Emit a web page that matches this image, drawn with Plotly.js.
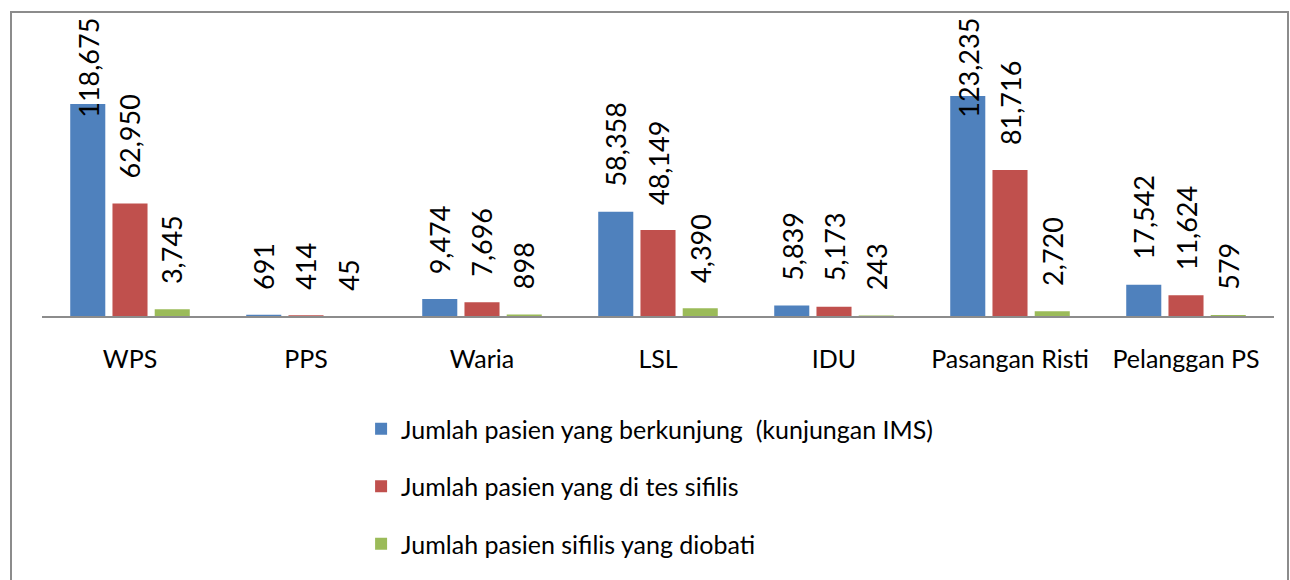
<!DOCTYPE html>
<html><head><meta charset="utf-8">
<script src="https://cdn.plot.ly/plotly-3.0.1.min.js"></script>
<style>
html,body{margin:0;padding:0;background:#fff;}
#chart{width:1290px;height:580px;}
#frame{position:absolute;left:10px;top:11px;width:1275px;height:620px;border:2px solid #8c8c8c;pointer-events:none;}
</style></head>
<body>
<div id="chart"></div>
<div id="frame"></div>
<script>
const categories = ["WPS","PPS","Waria","LSL","IDU","Pasangan Risti","Pelanggan PS"];
const seriesNames = ["Jumlah pasien yang berkunjung  (kunjungan IMS)","Jumlah pasien yang di tes sifilis","Jumlah pasien sifilis yang diobati"];
const visits  = [118675, 691, 9474, 58358, 5839, 123235, 17542];
const tested  = [62950, 414, 7696, 48149, 5173, 81716, 11624];
const treated = [3745, 45, 898, 4390, 243, 2720, 579];
const colors = ["#4F81BD","#C0504D","#9BBB59"];

const FONT = "Lato, 'Open Sans', sans-serif";
const allSeries = [visits, tested, treated];
const bargap = 0.28;
const yMax = 140000;

const traces = allSeries.map((vals,i)=>({
  type:'bar', x:categories, y:vals, name:seriesNames[i],
  marker:{color:colors[i]}, legendgroup:'g'+i, hoverinfo:'x+y'
}));

const slot = (1-bargap)/3;
const annotations = [];
allSeries.forEach((vals,i)=>{
  vals.forEach((v,j)=>{
    const txt = v.toLocaleString('en-US');
    const x = j + (i-1)*slot;
    if (v > 100000) {
      annotations.push({x:x, xref:'x', y:1.2, yref:'paper', yanchor:'top', xanchor:'center',
        text:txt, textangle:-90, showarrow:false, font:{family:FONT,size:27,color:'#000'}});
    } else {
      annotations.push({x:x, xref:'x', y:v, yref:'y', yanchor:'bottom', xanchor:'center', yshift:23,
        text:txt, textangle:-90, showarrow:false, font:{family:FONT,size:27,color:'#000'}});
    }
  });
});

const layout = {
  width:1290, height:580,
  margin:{l:42, r:16, t:66, b:264, autoexpand:false},
  paper_bgcolor:'#fff', plot_bgcolor:'#fff',
  barmode:'group', bargap:bargap, bargroupgap:0.17,
  font:{family:FONT, size:25, color:'#000'},
  showlegend:true,
  legend:{x:0.259, xanchor:'left', y:-0.36, yanchor:'top', orientation:'v',
    tracegroupgap:22, font:{family:FONT,size:25,color:'#000'}, bgcolor:'rgba(0,0,0,0)'},
  xaxis:{type:'category', showline:true, linecolor:'#8c8c8c', linewidth:2, ticks:'', automargin:false,
    showgrid:false, zeroline:false, ticklabelstandoff:20, tickfont:{family:FONT,size:25,color:'#000'}},
  yaxis:{range:[0,yMax], visible:false, showgrid:false, zeroline:false, automargin:false},
  annotations:annotations
};

Plotly.newPlot('chart', traces, layout, {displayModeBar:false, staticPlot:true});
</script>
</body></html>
